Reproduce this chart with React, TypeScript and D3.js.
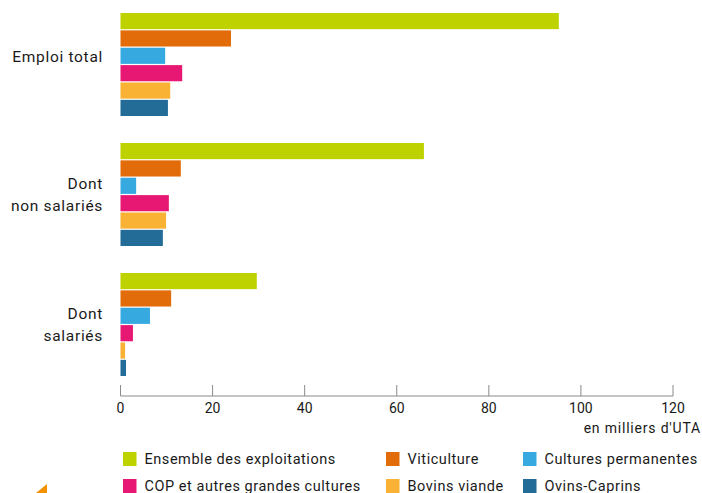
import React from "react";
import * as d3 from "d3";

const categories = ["Emploi total", "Dont non salariés", "Dont salariés"];
const categoryLines = [["Emploi total"], ["Dont", "non salariés"], ["Dont", "salariés"]];
const series = [
  "Ensemble des exploitations",
  "Viticulture",
  "Cultures permanentes",
  "COP et autres grandes cultures",
  "Bovins viande",
  "Ovins-Caprins",
];
const ensemble = [95.2, 65.9, 29.6];
const viticulture = [24.0, 13.1, 11.0];
const culturesPerm = [9.7, 3.4, 6.4];
const cop = [13.4, 10.5, 2.7];
const bovins = [10.8, 9.9, 1.0];
const ovins = [10.3, 9.2, 1.2];
const values = [ensemble, viticulture, culturesPerm, cop, bovins, ovins];
const xTicks = [0, 20, 40, 60, 80, 100, 120];
const colors = ["#BED200", "#E36C0A", "#36A9E1", "#E71873", "#F9B233", "#236C98"];

const FONT = "Roboto, 'Noto Sans', sans-serif";

export default function App() {
  const W = 702, H = 493;
  const x = d3.scaleLinear().domain([0, 120]).range([120.5, 673]);
  const y0 = d3.scaleBand<string>().domain(categories).range([13, 376]).paddingInner(0.2077).paddingOuter(0);
  const y1 = d3.scaleBand<string>().domain(series).range([0, y0.bandwidth()]).paddingInner(0.07);
  const axisY = 396;
  const legendCols = [123, 386, 523];
  const legendRows = [459, 486];
  return (
    <svg width={W} height={H} style={{ position: "absolute", left: 0, top: 0, fontFamily: FONT }}>
      {categories.map((c, ci) => (
        <g key={c}>
          {series.map((s, si) => (
            <rect key={s} x={x(0)} y={(y0(c) as number) + (y1(s) as number)} width={x(values[si][ci]) - x(0)} height={y1.bandwidth()} fill={colors[si]} />
          ))}
          {categoryLines[ci].map((line, li) => {
            const n = categoryLines[ci].length;
            const cy = (y0(c) as number) + y0.bandwidth() / 2 + (n === 1 ? -8 : 0);
            return (
              <text key={li} x={103} y={cy + (li - (n - 1) / 2) * 22} dy="0.35em" textAnchor="end" fontSize={15.5} letterSpacing={0.7} fill="#1a1a1a">
                {line}
              </text>
            );
          })}
        </g>
      ))}
      <line x1={x(0)} x2={x(120)} y1={axisY} y2={axisY} stroke="#8a8a8a" strokeWidth={1} />
      {xTicks.map((t) => (
        <g key={t}>
          <line x1={x(t)} x2={x(t)} y1={axisY - 11} y2={axisY} stroke="#8a8a8a" strokeWidth={1} />
          <text x={x(t)} y={axisY + 12} dy="0.35em" textAnchor="middle" fontSize={14} fill="#1a1a1a">{t}</text>
        </g>
      ))}
      <text x={701} y={428} dy="0.35em" textAnchor="end" fontSize={14} letterSpacing={0.8} fill="#1a1a1a">en milliers d'UTA</text>
      {series.map((s, i) => {
        const col = i % 3, row = Math.floor(i / 3);
        const lx = legendCols[col], ly = legendRows[row];
        return (
          <g key={s}>
            <rect x={lx} y={ly - 7} width={13.5} height={14} fill={colors[i]} />
            <text x={lx + 21.5} y={ly} dy="0.35em" fontSize={14.5} letterSpacing={0.55} fill="#1a1a1a">{s}</text>
          </g>
        );
      })}
      <path d="M36,493 L47,484 L47,493 Z" fill="#F39200" />
    </svg>
  );
}
